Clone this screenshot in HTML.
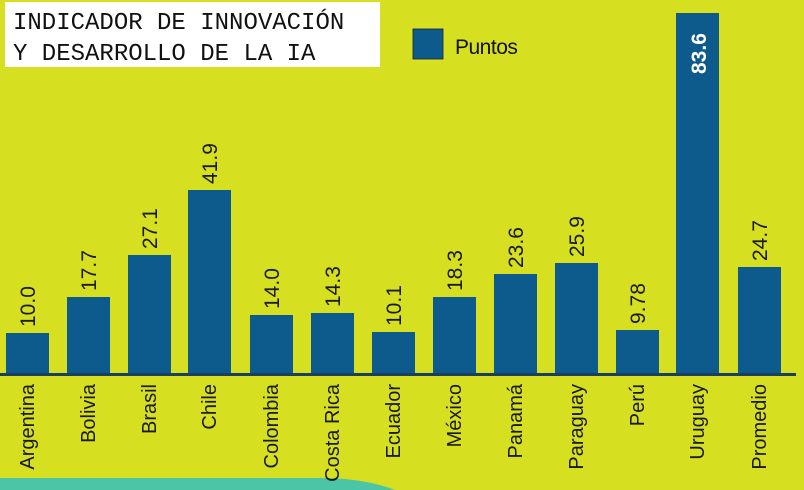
<!DOCTYPE html>
<html><head><meta charset="utf-8"><style>
html,body{margin:0;padding:0;width:804px;height:490px;overflow:hidden;background:#d7df21}
</style></head><body>
<svg width="804" height="490" xmlns="http://www.w3.org/2000/svg" style="display:block">
<rect width="804" height="490" fill="#d7df21"/>
<path d="M0 478 L330 478 Q370 480 395 490 L0 490 Z" fill="#4cc4a6"/>
<rect x="5" y="2" width="375" height="65" fill="#ffffff"/>
<text x="13" y="29" font-family="Liberation Mono, monospace" font-size="24" fill="#111">INDICADOR DE INNOVACIÓN</text>
<text x="13" y="60" font-family="Liberation Mono, monospace" font-size="24" fill="#111">Y DESARROLLO DE LA IA</text>
<rect x="413" y="29" width="30" height="30" fill="#0d5a8c" stroke="#123" stroke-width="0.8"/>
<text x="455" y="54" font-family="Liberation Sans, sans-serif" font-size="21" fill="#111" letter-spacing="-0.5">Puntos</text>
<g fill="#0d5a8c">
<rect x="6" y="333" width="43" height="42"/>
<rect x="67" y="297" width="43" height="78"/>
<rect x="128" y="255" width="43" height="120"/>
<rect x="188" y="190" width="43" height="185"/>
<rect x="250" y="315" width="43" height="60"/>
<rect x="311" y="313" width="43" height="62"/>
<rect x="372" y="332" width="43" height="43"/>
<rect x="433" y="297" width="43" height="78"/>
<rect x="494" y="274" width="43" height="101"/>
<rect x="555" y="263" width="43" height="112"/>
<rect x="616" y="330" width="43" height="45"/>
<rect x="676" y="13" width="43" height="362"/>
<rect x="738" y="267" width="43" height="108"/>
</g>
<rect x="0" y="373" width="796" height="3" fill="#1b3f5e"/>
<g font-family="Liberation Sans, sans-serif" font-size="21" fill="#1a1a1a">
<text transform="translate(35,327) rotate(-90)">10.0</text>
<text transform="translate(96,291) rotate(-90)">17.7</text>
<text transform="translate(157,249) rotate(-90)">27.1</text>
<text transform="translate(217,184) rotate(-90)">41.9</text>
<text transform="translate(279,309) rotate(-90)">14.0</text>
<text transform="translate(340,307) rotate(-90)">14.3</text>
<text transform="translate(401,326) rotate(-90)">10.1</text>
<text transform="translate(462,291) rotate(-90)">18.3</text>
<text transform="translate(523,268) rotate(-90)">23.6</text>
<text transform="translate(584,257) rotate(-90)">25.9</text>
<text transform="translate(645,324) rotate(-90)">9.78</text>
<text transform="translate(767,261) rotate(-90)">24.7</text>
</g>
<text transform="translate(706,74) rotate(-90)" font-family="Liberation Sans, sans-serif" font-size="21" font-weight="bold" fill="#fff">83.6</text>
<g font-family="Liberation Sans, sans-serif" font-size="20" fill="#1a1a1a" text-anchor="end">
<text transform="translate(34,384) rotate(-90)">Argentina</text>
<text transform="translate(95,384) rotate(-90)">Bolivia</text>
<text transform="translate(156,384) rotate(-90)">Brasil</text>
<text transform="translate(216,384) rotate(-90)">Chile</text>
<text transform="translate(278,384) rotate(-90)">Colombia</text>
<text transform="translate(339,384) rotate(-90)">Costa Rica</text>
<text transform="translate(400,384) rotate(-90)">Ecuador</text>
<text transform="translate(461,384) rotate(-90)">México</text>
<text transform="translate(522,384) rotate(-90)">Panamá</text>
<text transform="translate(583,384) rotate(-90)">Paraguay</text>
<text transform="translate(644,384) rotate(-90)">Perú</text>
<text transform="translate(704,384) rotate(-90)">Uruguay</text>
<text transform="translate(766,384) rotate(-90)">Promedio</text>
</g>
</svg>
</body></html>
